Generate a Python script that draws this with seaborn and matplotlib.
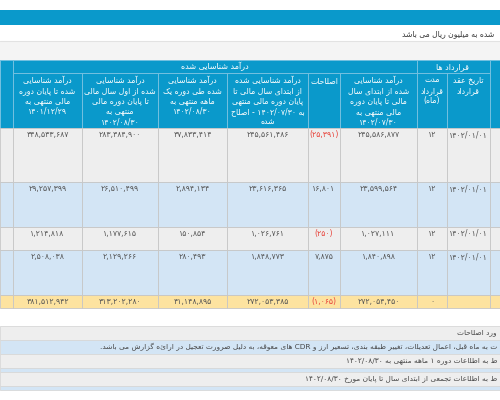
import matplotlib
matplotlib.use("Agg")
import matplotlib.pyplot as plt
import seaborn as sns
from matplotlib.patches import Rectangle

sns.set_theme(style="white")
plt.rcParams['font.family'] = ['DejaVu Sans']

# ---------------- data ----------------
title_note = "شده به میلیون ریال می باشد"
group_recognized = "درآمد شناسایی شده"
group_contract = "قرارداد ها"
col_headers = [
    ["درآمد شناسایی", "شده تا پایان دوره", "مالی منتهی به", "1401/12/29"],
    ["درآمد شناسایی", "شده از اول سال مالی", "تا پایان دوره مالی", "منتهی به", "1402/08/30"],
    ["درآمد شناسایی", "شده طی دوره یک", "ماهه منتهی به", "1402/08/30"],
    ["درآمد شناسایی شده", "از ابتدای سال مالی تا", "پایان دوره مالی منتهی", "به 1402/07/30 - اصلاح", "شده"],
    ["اصلاحات"],
    ["درآمد شناسایی", "شده از ابتدای سال", "مالی تا پایان دوره", "مالی منتهی به", "1402/07/30"],
    ["مدت", "قرارداد", "(ماه)"],
    ["تاریخ عقد", "قرارداد"],
]
row_values = [
    ["348,533,687", "283,384,900", "37,833,414", "245,561,486", "(25,391)", "245,586,877", "12", "1402/01/01"],
    ["29,257,399", "26,510,499", "2,894,134", "23,616,365", "16,801", "23,599,564", "12", "1402/01/01"],
    ["1,214,818", "1,177,615", "150,854", "1,026,761", "(250)", "1,027,111", "12", "1402/01/01"],
    ["2,508,038", "2,129,266", "280,493", "1,848,773", "7,875", "1,840,898", "12", "1402/01/01"],
]
total_values = ["381,512,942", "313,202,280", "41,148,895", "272,053,385", "(1,065)", "272,054,450", "0", ""]
notes = [
    "ورد اصلاحات",
    "ت به ماه قبل، اعمال تعدیلات، تغییر طبقه بندی، تسعیر ارز و CDR های معوقه، به دلیل ضرورت تعجیل در ارائه گزارش می باشد.",
    "ط به اطلاعات دوره 1 ماهه منتهی به 1402/08/30",
    "ط به اطلاعات تجمعی از ابتدای سال تا پایان مورخ 1402/08/30",
]

# ---------------- simple Persian shaping ----------------
F = {
 'ا': (0xFE8D, 0xFE8E, None, None), 'آ': (0xFE81, 0xFE82, None, None),
 'ب': (0xFE8F, 0xFE90, 0xFE91, 0xFE92), 'پ': (0xFB56, 0xFB57, 0xFB58, 0xFB59),
 'ت': (0xFE95, 0xFE96, 0xFE97, 0xFE98), 'ث': (0xFE99, 0xFE9A, 0xFE9B, 0xFE9C),
 'ج': (0xFE9D, 0xFE9E, 0xFE9F, 0xFEA0), 'چ': (0xFB7A, 0xFB7B, 0xFB7C, 0xFB7D),
 'ح': (0xFEA1, 0xFEA2, 0xFEA3, 0xFEA4), 'خ': (0xFEA5, 0xFEA6, 0xFEA7, 0xFEA8),
 'د': (0xFEA9, 0xFEAA, None, None), 'ذ': (0xFEAB, 0xFEAC, None, None),
 'ر': (0xFEAD, 0xFEAE, None, None), 'ز': (0xFEAF, 0xFEB0, None, None),
 'ژ': (0xFB8A, 0xFB8B, None, None),
 'س': (0xFEB1, 0xFEB2, 0xFEB3, 0xFEB4), 'ش': (0xFEB5, 0xFEB6, 0xFEB7, 0xFEB8),
 'ص': (0xFEB9, 0xFEBA, 0xFEBB, 0xFEBC), 'ض': (0xFEBD, 0xFEBE, 0xFEBF, 0xFEC0),
 'ط': (0xFEC1, 0xFEC2, 0xFEC3, 0xFEC4), 'ظ': (0xFEC5, 0xFEC6, 0xFEC7, 0xFEC8),
 'ع': (0xFEC9, 0xFECA, 0xFECB, 0xFECC), 'غ': (0xFECD, 0xFECE, 0xFECF, 0xFED0),
 'ف': (0xFED1, 0xFED2, 0xFED3, 0xFED4), 'ق': (0xFED5, 0xFED6, 0xFED7, 0xFED8),
 'ک': (0xFB8E, 0xFB8F, 0xFB90, 0xFB91), 'گ': (0xFB92, 0xFB93, 0xFB94, 0xFB95),
 'ل': (0xFEDD, 0xFEDE, 0xFEDF, 0xFEE0), 'م': (0xFEE1, 0xFEE2, 0xFEE3, 0xFEE4),
 'ن': (0xFEE5, 0xFEE6, 0xFEE7, 0xFEE8), 'ه': (0xFEE9, 0xFEEA, 0xFEEB, 0xFEEC),
 'و': (0xFEED, 0xFEEE, None, None), 'ی': (0xFBFC, 0xFBFD, 0xFBFE, 0xFBFF),
}
PD = str.maketrans("0123456789", "۰۱۲۳۴۵۶۷۸۹")

def shape(word):
    out = []
    n = len(word)
    for i, c in enumerate(word):
        if c not in F:
            out.append(c); continue
        iso, fin, ini, med = F[c]
        prev = word[i-1] if i > 0 else ''
        nxt = word[i+1] if i < n-1 else ''
        jp = prev in F and F[prev][2] is not None
        jn = ini is not None and nxt in F
        if jp and jn: g = med
        elif jp: g = fin
        elif jn: g = ini
        else: g = iso
        out.append(chr(g))
    return ''.join(out)

def is_ar(t):
    return any(ch in F for ch in t)

def rtl(s):
    toks = s.split(' ')
    res = []
    for t in reversed(toks):
        if is_ar(t):
            r = shape(t)[::-1]
            r = r.replace('(', '\0').replace(')', '(').replace('\0', ')')
            res.append(r)
        else:
            res.append(t.translate(PD))
    return ' '.join(res)

def fa(s):
    return s.translate(PD)

# ---------------- layout ----------------
fig = plt.figure(figsize=(5, 4), dpi=100)
ax = fig.add_axes([0, 0, 1, 1])
ax.set_xlim(0, 500); ax.set_ylim(400, 0); ax.axis('off')

def rect(x0, y0, x1, y1, fc, ec='none', lw=0.6):
    ax.add_patch(Rectangle((x0, y0), x1 - x0, y1 - y0, facecolor=fc, edgecolor=ec, lw=lw))

txt = '#3a3a3a'
grid = '#c6c6c6'
hdr = '#0a99cb'
hgrid = '#7cc4e2'
xs = [0, 13, 82, 158, 227, 308, 340, 417, 447, 490, 500]

rect(0, 10, 500, 25, hdr)
ax.text(494, 33.5, rtl(title_note), ha='right', va='center', fontsize=5.5, color=txt)
rect(0, 41, 500, 60, '#f4f4f4')
ax.plot([0, 500], [41, 41], color='#e2e2e2', lw=0.8)

# header
rect(0, 60, 500, 128, hdr, hgrid)
rect(0, 60, 13, 128, hdr, hgrid)
rect(490, 60, 500, 128, hdr, hgrid)
rect(13, 60, 417, 73, hdr, hgrid)
rect(417, 60, 490, 73, hdr, hgrid)
ax.text(215, 66.5, rtl(group_recognized), ha='center', va='center', fontsize=5.8, color='white')
ax.text(453, 66.5, rtl(group_contract), ha='center', va='center', fontsize=5.8, color='white')
for j, lines in enumerate(col_headers):
    x0, x1 = xs[j + 1], xs[j + 2]
    rect(x0, 73, x1, 128, hdr, hgrid)
    yy = 76 if len(lines) > 1 else 77
    for k, ln in enumerate(lines):
        ax.text((x0 + x1) / 2, yy + 4 + k * 10.5, rtl(ln), ha='center', va='center', fontsize=5.6, color='white')

# data rows
row_bounds = [(128, 182, '#eeeeee'), (182, 227, '#d3e5f5'), (227, 250, '#eeeeee'), (250, 295, '#d3e5f5')]
for (y0, y1, fc), vals in zip(row_bounds, row_values):
    for j in range(len(xs) - 1):
        rect(xs[j], y0, xs[j + 1], y1, fc, grid)
    for j, v in enumerate(vals):
        x0, x1 = xs[j + 1], xs[j + 2]
        col = '#e8433a' if v.startswith('(') else '#555555'
        ax.text((x0 + x1) / 2, y0 + 6.5, fa(v), ha='center', va='center', fontsize=5.6, color=col)

for j in range(len(xs) - 1):
    rect(xs[j], 295, xs[j + 1], 308, '#fde3a0', grid)
for j, v in enumerate(total_values):
    x0, x1 = xs[j + 1], xs[j + 2]
    col = '#e8433a' if v.startswith('(') else '#555555'
    ax.text((x0 + x1) / 2, 301.5, fa(v), ha='center', va='center', fontsize=5.6, color=col)

# notes
rect(0, 326, 500, 340, '#eeeeee', '#d8d8d8')
rect(0, 340, 500, 354, '#d3e5f5', '#d8d8d8')
rect(0, 354, 500, 368, '#eeeeee', '#d8d8d8')
rect(0, 368, 500, 372, '#d3e5f5', '#d8d8d8')
rect(0, 372, 500, 386, '#eeeeee', '#d8d8d8')
rect(0, 386, 500, 390, '#d3e5f5', '#d8d8d8')
for y, t in zip([333, 347, 361, 379], notes):
    ax.text(497, y, rtl(t), ha='right', va='center', fontsize=5.3, color='#444444')

fig.savefig('out.png', dpi=100)
